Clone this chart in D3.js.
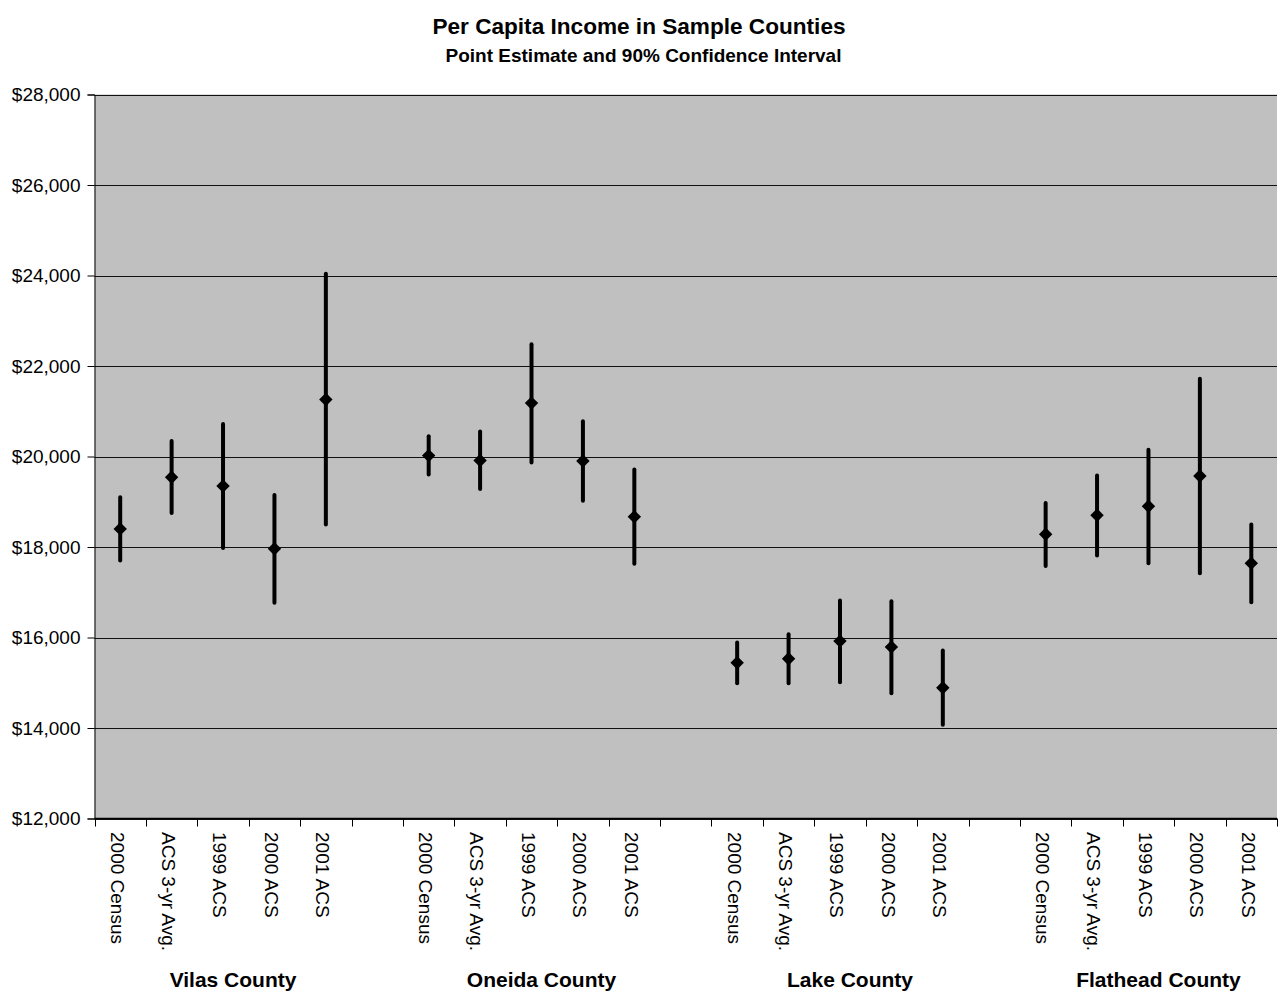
<!DOCTYPE html>
<html>
<head>
<meta charset="utf-8">
<script src="https://cdn.jsdelivr.net/npm/d3@7"></script>
<style>
  html, body { margin: 0; padding: 0; background: #fff; }
  svg { display: block; font-family: "Liberation Sans", Arial, sans-serif; }
</style>
</head>
<body>
<svg id="chart" width="1278" height="994"></svg>
<script>
// Counties and survey measures shown for each
const counties = ["Vilas County", "Oneida County", "Lake County", "Flathead County"];
const measures = ["2000 Census", "ACS 3-yr Avg.", "1999 ACS", "2000 ACS", "2001 ACS"];

// Point estimates (per capita income, dollars), one row per county
const estimates = [
  [18400, 19540, 19350, 17960, 21260],
  [20020, 19910, 21180, 19900, 18670],
  [15440, 15530, 15920, 15790, 14890],
  [18280, 18700, 18900, 19570, 17640]
];
// 90% confidence interval upper bounds
const upperBounds = [
  [19100, 20340, 20720, 19150, 24040],
  [20450, 20550, 22480, 20780, 19710],
  [15890, 16070, 16820, 16800, 15710],
  [18970, 19580, 20150, 21720, 18500]
];
// 90% confidence interval lower bounds
const lowerBounds = [
  [17700, 18750, 17980, 16770, 18500],
  [19600, 19280, 19870, 19020, 17630],
  [14990, 14990, 15010, 14770, 14070],
  [17580, 17810, 17640, 17420, 16780]
];

const yTicks = [12000, 14000, 16000, 18000, 20000, 22000, 24000, 26000, 28000];

// Layout
const svg = d3.select("#chart");
const plotLeft = 94.5, plotRight = 1277, plotTop = 94.5, plotBottom = 818.5;

// Category slots: five measures per county, with an empty slot between counties
const slots = [];
counties.forEach((c, ci) => {
  measures.forEach((m, mi) => slots.push({ key: ci + "-" + mi, county: ci, measure: mi, label: m }));
  if (ci < counties.length - 1) slots.push({ key: "gap-" + ci, gap: true, label: "" });
});

const x = d3.scaleBand().domain(slots.map(s => s.key)).range([plotLeft, plotRight]).padding(0);
const y = d3.scaleLinear().domain([12000, 28000]).range([plotBottom, plotTop]);

// Plot background
svg.append("rect")
  .attr("x", plotLeft).attr("y", plotTop)
  .attr("width", plotRight - plotLeft).attr("height", plotBottom - plotTop)
  .attr("fill", "#c0c0c0");

// Horizontal gridlines
svg.append("g")
  .selectAll("line")
  .data(yTicks)
  .join("line")
  .attr("x1", plotLeft).attr("x2", plotRight)
  .attr("y1", d => Math.round(y(d)) + 0.5).attr("y2", d => Math.round(y(d)) + 0.5)
  .attr("stroke", "#111").attr("stroke-width", 1);

// Y axis
const yAxis = d3.axisLeft(y)
  .tickValues(yTicks)
  .tickSize(7)
  .tickPadding(7)
  .tickFormat(d => "$" + d3.format(",")(d));
svg.append("g")
  .attr("transform", `translate(${plotLeft},0)`)
  .call(yAxis)
  .call(g => g.select(".domain").attr("stroke", "#000"))
  .call(g => g.selectAll(".tick line").attr("stroke", "#000"))
  .call(g => g.selectAll("text")
    .attr("font-size", 19)
    .attr("fill", "#000")
    .attr("font-family", "'Liberation Sans', Arial, sans-serif"));

// X axis: tick marks at slot boundaries
const boundaries = slots.map(s => x(s.key)).concat([plotRight]);
svg.append("line")
  .attr("x1", plotLeft).attr("x2", plotRight)
  .attr("y1", plotBottom).attr("y2", plotBottom)
  .attr("stroke", "#000").attr("stroke-width", 1.5);
svg.append("g")
  .selectAll("line")
  .data(boundaries)
  .join("line")
  .attr("x1", d => Math.round(d) + 0.5).attr("x2", d => Math.round(d) + 0.5)
  .attr("y1", plotBottom).attr("y2", plotBottom + 8)
  .attr("stroke", "#000").attr("stroke-width", 1);

// Rotated category labels
svg.append("g")
  .selectAll("text")
  .data(slots.filter(s => !s.gap))
  .join("text")
  .attr("transform", d => `translate(${x(d.key) + x.bandwidth() / 2 - 3},832) rotate(90)`)
  .attr("dy", "0.35em")
  .attr("text-anchor", "start")
  .attr("font-size", 19)
  .attr("fill", "#000")
  .text(d => d.label);

// County group labels
svg.append("g")
  .selectAll("text")
  .data(counties)
  .join("text")
  .attr("x", (d, i) => x(i + "-2") + x.bandwidth() / 2 + 10)
  .attr("y", 987)
  .attr("text-anchor", "middle")
  .attr("font-size", 21)
  .attr("font-weight", "bold")
  .attr("fill", "#000")
  .text(d => d);

// Confidence interval bars and point estimates
const points = slots.filter(s => !s.gap).map(s => ({
  key: s.key,
  est: estimates[s.county][s.measure],
  hi: upperBounds[s.county][s.measure],
  lo: lowerBounds[s.county][s.measure]
}));

const marks = svg.append("g");
marks.selectAll("line.ci")
  .data(points)
  .join("line")
  .attr("class", "ci")
  .attr("x1", d => x(d.key) + x.bandwidth() / 2)
  .attr("x2", d => x(d.key) + x.bandwidth() / 2)
  .attr("y1", d => y(d.hi))
  .attr("y2", d => y(d.lo))
  .attr("stroke", "#000")
  .attr("stroke-width", 4)
  .attr("stroke-linecap", "round");

const diamond = d3.symbol().type(d3.symbolDiamond2).size(115);
marks.selectAll("path.pt")
  .data(points)
  .join("path")
  .attr("class", "pt")
  .attr("transform", d => `translate(${x(d.key) + x.bandwidth() / 2},${y(d.est)})`)
  .attr("d", diamond)
  .attr("fill", "#000");

// Titles
svg.append("text")
  .attr("x", 639).attr("y", 34)
  .attr("text-anchor", "middle")
  .attr("font-size", 22.6)
  .attr("font-weight", "bold")
  .text("Per Capita Income in Sample Counties");
svg.append("text")
  .attr("x", 643.5).attr("y", 62)
  .attr("text-anchor", "middle")
  .attr("font-size", 19)
  .attr("font-weight", "bold")
  .text("Point Estimate and 90% Confidence Interval");
</script>
</body>
</html>
